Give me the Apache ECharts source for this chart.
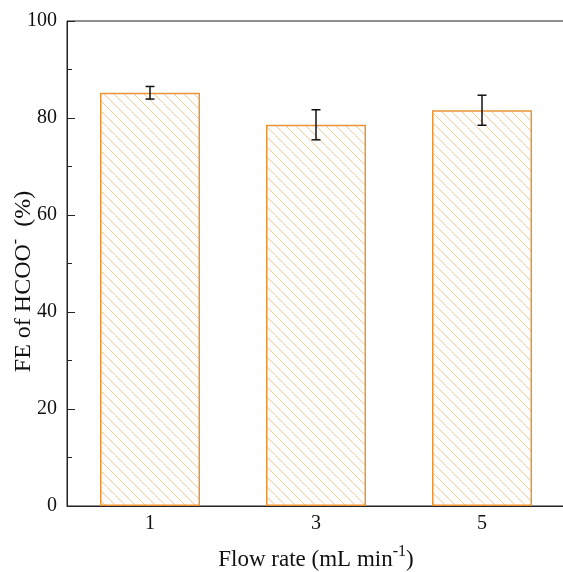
<!DOCTYPE html>
<html>
<head>
<meta charset="utf-8">
<script src="https://cdn.jsdelivr.net/npm/echarts@6/dist/echarts.min.js"></script>
<style>
html,body{margin:0;padding:0;background:#fff;}
#chart{width:563px;height:572px;}
</style>
</head>
<body>
<div id="chart"></div>
<script>
var categories = ['1', '3', '5'];
var feValues = [85.2, 78.6, 81.6];
var feErrors = [1.3, 3.1, 3.1];
var yTicks = [0, 20, 40, 60, 80, 100];

function makeHatch() {
  var c = document.createElement('canvas');
  c.width = 10; c.height = 10;
  var ctx = c.getContext('2d');
  ctx.fillStyle = '#ffffff';
  ctx.fillRect(0, 0, 10, 10);
  ctx.strokeStyle = '#F5C894';
  ctx.lineWidth = 1;
  ctx.beginPath();
  ctx.moveTo(-1, -1); ctx.lineTo(11, 11);
  ctx.moveTo(-11, -1); ctx.lineTo(1, 11);
  ctx.moveTo(9, -1); ctx.lineTo(21, 11);
  ctx.stroke();
  return c;
}

var errData = categories.map(function (c, i) {
  return [i, feValues[i] - feErrors[i], feValues[i] + feErrors[i]];
});

var chart = echarts.init(document.getElementById('chart'), null, {renderer: 'canvas'});
var font = '"Liberation Serif", "Times New Roman", serif';
var txt = '#111';
function rich(size, supSize) {
  return {
    n: {fontFamily: font, fontSize: size, color: txt, verticalAlign: 'bottom', lineHeight: size + 4},
    s: {fontFamily: font, fontSize: supSize, color: txt, verticalAlign: 'top', lineHeight: size + 4, padding: [0, 0, 10, 0]}
  };
}
chart.setOption({
  animation: false,
  backgroundColor: '#ffffff',
  grid: {left: 67, top: 21, width: 498, height: 485, show: true, borderColor: '#222', borderWidth: 1,
    backgroundColor: 'transparent', containLabel: false, outerBoundsMode: 'none'},
  xAxis: [{
    type: 'category',
    data: categories,
    boundaryGap: true,
    axisLine: {lineStyle: {color: '#222', width: 1}},
    axisTick: {alignWithLabel: true, inside: true, length: 8, lineStyle: {color: '#222'}},
    axisLabel: {fontFamily: font, fontSize: 20, color: txt, margin: 8},
    name: '{n|Flow rate (mL min}{s|-1}{n|)}',
    nameLocation: 'middle',
    nameGap: 38,
    nameMoveOverlap: false,
    nameTextStyle: {rich: rich(23, 16)}
  }, {
    type: 'category',
    data: categories,
    position: 'bottom',
    boundaryGap: true,
    axisLine: {show: false},
    axisTick: {alignWithLabel: false, inside: true, length: 4, lineStyle: {color: '#222'}},
    axisLabel: {show: false}
  }],
  yAxis: [{
    type: 'value',
    min: 0, max: 100, interval: 20,
    axisLine: {show: true, lineStyle: {color: '#222', width: 1}},
    axisTick: {show: true, inside: true, length: 8, lineStyle: {color: '#222'}},
    splitLine: {show: false},
    axisLabel: {fontFamily: font, fontSize: 20, color: txt, margin: 10,
      formatter: function (v) { return yTicks.indexOf(v) >= 0 ? String(v) : ''; }},
    name: '{n|FE of HCOO}{s|-}{n|  (%)}',
    nameLocation: 'middle',
    nameGap: 31,
    nameMoveOverlap: false,
    nameTextStyle: {rich: rich(24, 16), padding: [0, 36, 0, 0]}
  }, {
    type: 'value',
    position: 'left',
    min: 0, max: 100, interval: 10,
    axisLine: {show: false},
    axisTick: {show: true, inside: true, length: 5, lineStyle: {color: '#222'}},
    splitLine: {show: false},
    axisLabel: {show: false}
  }],
  series: [{
    type: 'bar',
    data: feValues,
    barWidth: 100,
    itemStyle: {
      color: {image: makeHatch(), repeat: 'repeat'},
      borderColor: '#EB9436',
      borderWidth: 1.5
    }
  }, {
    type: 'custom',
    data: errData,
    renderItem: function (params, api) {
      var x = api.value(0);
      var lo = api.coord([x, api.value(1)]);
      var hi = api.coord([x, api.value(2)]);
      var hw = 4.5;
      var st = {stroke: '#111', lineWidth: 1.5};
      return {
        type: 'group',
        children: [
          {type: 'line', shape: {x1: lo[0], y1: lo[1], x2: hi[0], y2: hi[1]}, style: st},
          {type: 'line', shape: {x1: lo[0] - hw, y1: lo[1], x2: lo[0] + hw, y2: lo[1]}, style: st},
          {type: 'line', shape: {x1: hi[0] - hw, y1: hi[1], x2: hi[0] + hw, y2: hi[1]}, style: st}
        ]
      };
    },
    z: 5
  }]
});
</script>
</body>
</html>
